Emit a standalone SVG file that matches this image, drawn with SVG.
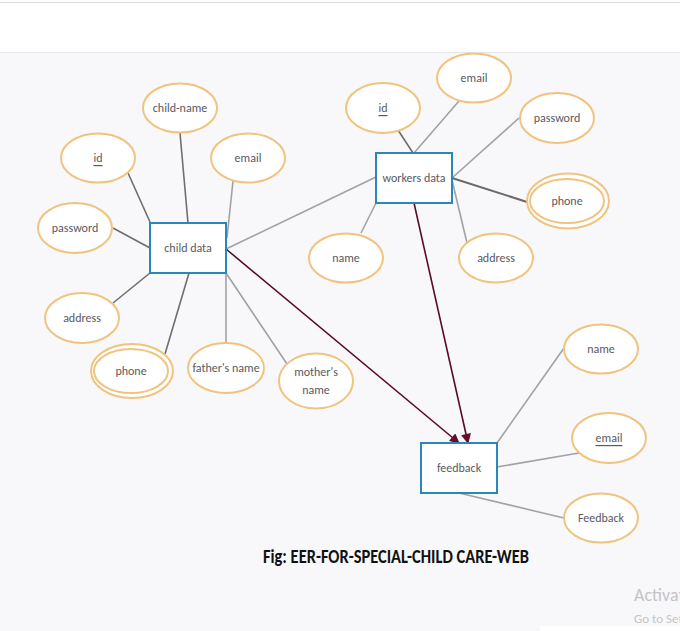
<svg xmlns="http://www.w3.org/2000/svg" width="680" height="631" viewBox="0 0 680 631">
<defs>
<style>
.ent{fill:#ffffff;stroke:#2a88b8;stroke-width:2}
.att{fill:#ffffff;stroke:#f0c37e;stroke-width:2}
.lbl{font-family:Carlito,Lato,"Open Sans",sans-serif;font-size:12px;fill:#5a5a62;text-anchor:middle;dominant-baseline:central}
.u{text-decoration:underline}
.dk{stroke:#6e6e6e;stroke-width:1.6;fill:none}
.lt{stroke:#a2a2a6;stroke-width:1.6;fill:none}
.rel{stroke:#5a0b22;stroke-width:1.6;fill:none;marker-end:url(#ah)}
.wm{font-family:Carlito,Lato,"Open Sans",sans-serif;fill:#c4c4c8}
</style>
<marker id="ah" viewBox="0 0 10 10" refX="9" refY="5" markerWidth="11" markerHeight="10" orient="auto" markerUnits="userSpaceOnUse">
<path d="M0,0 L10,5 L0,10 Z" fill="#6a0a26"/>
</marker>
</defs>
<rect x="0" y="0" width="680" height="631" fill="#f8f8fa"/>
<rect x="0" y="0" width="680" height="52" fill="#ffffff"/>
<line x1="0" y1="2.5" x2="680" y2="2.5" stroke="#dcdcdc" stroke-width="1"/>
<line x1="0" y1="52.5" x2="680" y2="52.5" stroke="#e6e6e8" stroke-width="1"/>

<g id="connectors">
<line class="dk" x1="128" y1="173" x2="150" y2="222"/>
<line class="dk" x1="180" y1="133" x2="188" y2="223"/>
<line class="lt" x1="233" y1="181" x2="227" y2="238"/>
<line class="dk" x1="113" y1="228" x2="150" y2="248"/>
<line class="dk" x1="113" y1="303" x2="150" y2="273"/>
<line class="dk" x1="165" y1="354" x2="189" y2="273"/>
<line class="lt" x1="226" y1="273" x2="226" y2="343"/>
<line class="lt" x1="226" y1="273" x2="287" y2="364"/>
<line class="lt" x1="226" y1="249" x2="376" y2="177"/>
<line class="dk" x1="398" y1="130" x2="413" y2="153"/>
<line class="lt" x1="459" y1="101" x2="414" y2="153"/>
<line class="lt" x1="519" y1="118" x2="452" y2="178"/>
<line stroke="#6a6a6a" stroke-width="2" x1="452" y1="178" x2="527" y2="202"/>
<line class="lt" x1="452" y1="180" x2="467" y2="243"/>
<line class="lt" x1="376" y1="203" x2="361" y2="233"/>
<line class="lt" x1="564" y1="348" x2="497" y2="443"/>
<line class="lt" x1="579" y1="453" x2="497" y2="467"/>
<line class="lt" x1="564" y1="518" x2="459" y2="493"/>
<line class="rel" x1="226" y1="249" x2="459" y2="443"/>
<line class="rel" x1="414" y1="203" x2="468" y2="443"/>
</g>

<g id="child-data"><rect class="ent" x="150" y="223" width="76" height="50"/><text class="lbl" x="188" y="248">child data</text></g>
<g id="child-name"><ellipse class="att" cx="180" cy="108" rx="37" ry="24.5"/><text class="lbl" x="180" y="108">child-name</text></g>
<g id="child-id"><ellipse class="att" cx="98" cy="158" rx="37" ry="24.5"/><text class="lbl u" x="98" y="158">id</text></g>
<g id="child-email"><ellipse class="att" cx="248" cy="158" rx="37" ry="24.5"/><text class="lbl" x="248" y="158">email</text></g>
<g id="child-password"><ellipse class="att" cx="75" cy="228" rx="37" ry="25"/><text class="lbl" x="75" y="228">password</text></g>
<g id="child-address"><ellipse class="att" cx="82" cy="318" rx="37" ry="25"/><text class="lbl" x="82" y="318">address</text></g>
<g id="child-phone"><ellipse class="att" cx="132" cy="371" rx="41" ry="27"/><ellipse class="att" cx="131" cy="371" rx="37" ry="22"/><text class="lbl" x="131" y="371">phone</text></g>
<g id="fathers-name"><ellipse class="att" cx="226" cy="368" rx="38" ry="25"/><text class="lbl" x="226" y="368">father's name</text></g>
<g id="mothers-name"><ellipse class="att" cx="316" cy="381" rx="37" ry="27.5"/><text class="lbl" x="316" y="372">mother's</text><text class="lbl" x="316" y="390">name</text></g>

<g id="workers-data"><rect class="ent" x="376" y="153" width="76" height="50"/><text class="lbl" x="414" y="178">workers data</text></g>
<g id="workers-email"><ellipse class="att" cx="474" cy="78" rx="37" ry="24.5"/><text class="lbl" x="474" y="78">email</text></g>
<g id="workers-id"><ellipse class="att" cx="383" cy="108" rx="37" ry="25"/><text class="lbl u" x="383" y="108">id</text></g>
<g id="workers-password"><ellipse class="att" cx="557" cy="118" rx="37" ry="25"/><text class="lbl" x="557" y="118">password</text></g>
<g id="workers-phone"><ellipse class="att" cx="568" cy="201" rx="41" ry="27.5"/><ellipse class="att" cx="567" cy="201" rx="37" ry="22"/><text class="lbl" x="567" y="201">phone</text></g>
<g id="workers-name"><ellipse class="att" cx="346" cy="258" rx="37" ry="24.5"/><text class="lbl" x="346" y="258">name</text></g>
<g id="workers-address"><ellipse class="att" cx="496" cy="258" rx="37" ry="24.5"/><text class="lbl" x="496" y="258">address</text></g>

<g id="feedback"><rect class="ent" x="421" y="443" width="76" height="50"/><text class="lbl" x="459" y="468">feedback</text></g>
<g id="feedback-name"><ellipse class="att" cx="601" cy="349" rx="37" ry="24.5"/><text class="lbl" x="601" y="349">name</text></g>
<g id="feedback-email"><ellipse class="att" cx="609" cy="438" rx="37" ry="25"/><text class="lbl u" x="609" y="438">email</text></g>
<g id="feedback-text"><ellipse class="att" cx="601" cy="518" rx="37" ry="24.5"/><text class="lbl" x="601" y="518">Feedback</text></g>

<text x="263" y="563" font-family="Carlito,Lato,'Open Sans',sans-serif" font-size="19.5" font-weight="600" fill="#111111" textLength="266" lengthAdjust="spacingAndGlyphs">Fig: EER-FOR-SPECIAL-CHILD CARE-WEB</text>
<rect x="540" y="626" width="140" height="5" fill="#ffffff"/>
<text class="wm" x="634" y="601" font-size="18">Activat</text>
<text class="wm" x="634" y="623" font-size="13">Go to Set</text>
</svg>
